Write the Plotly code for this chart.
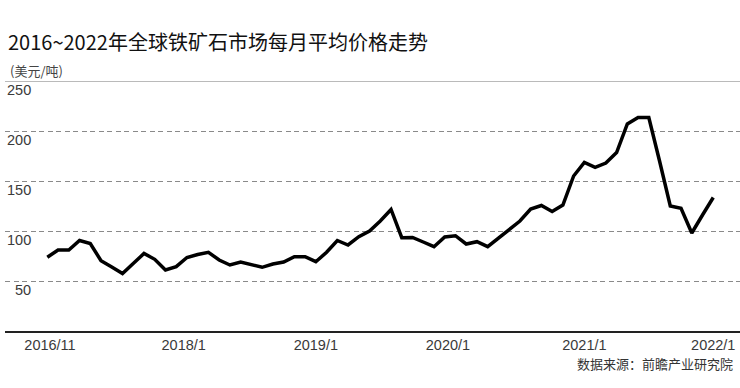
import pandas as pd
import plotly.graph_objects as go

# ---- data ----
months = [d.strftime("%Y/%-m") for d in pd.date_range("2016-11-01", "2022-01-01", freq="MS")]
prices = [
    73.7, 81.0,                                                            # 2016/11-12
    81.0, 90.5, 87.5, 70.3, 64.0, 57.5, 67.5, 77.5, 71.7, 61.0, 64.3, 73.5,   # 2017
    76.5, 78.7, 71.0, 66.0, 69.0, 66.5, 63.7, 67.0, 69.0, 74.3, 74.3, 69.3,   # 2018
    78.7, 90.5, 86.0, 94.3, 100.0, 110.0, 121.5, 93.3, 93.5, 89.0, 84.3, 94.0,  # 2019
    95.3, 87.0, 89.3, 84.3, 93.0, 102.0, 110.0, 122.0, 125.5, 119.5, 126.0, 155.0,  # 2020
    168.5, 163.7, 168.0, 178.5, 207.0, 213.5, 213.5, 170.0, 125.0, 122.7, 98.0, 116.0,  # 2021
    133.5,                                                                 # 2022/1
]
x_tick_labels = ["2016/11", "2018/1", "2019/1", "2020/1", "2021/1", "2022/1"]
x_tick_index = [0.25, 12.7, 25.0, 37.3, 50.0, 62.0]
y_ticks = [50, 100, 150, 200, 250]

title_text = "2016~2022年全球铁矿石市场每月平均价格走势"
unit_text = "(美元/吨)"
source_text = "数据来源：前瞻产业研究院"

x = list(range(len(months)))

W, H = 740, 388
L, R, T, B = 5, 0, 81, 57
pw = W - L - R
ph = H - T - B

CJK = "Noto Sans CJK SC"
NUM = "Liberation Sans, Arial, sans-serif"

fig = go.Figure()
fig.add_trace(go.Scatter(
    x=x, y=prices, mode="lines",
    line=dict(color="#000000", width=3.5),
    customdata=months,
    hovertemplate="%{customdata}: %{y}<extra></extra>",
    showlegend=False,
))

fig.update_layout(
    width=W, height=H,
    margin=dict(l=L, r=R, t=T, b=B, pad=0),
    paper_bgcolor="white", plot_bgcolor="white",
    title=dict(text=title_text, x=8 / W, xanchor="left", xref="container",
               y=1 - 43 / H, yanchor="middle", yref="container",
               font=dict(family=CJK, size=20, color="#111111")),
    xaxis=dict(
        range=[-3.94, 64.49], showgrid=False, zeroline=False,
        showline=True, linecolor="#222222", linewidth=1.5,
        tickmode="array", tickvals=x_tick_index, ticktext=x_tick_labels,
        ticks="", ticklabelstandoff=0,
        tickfont=dict(family=NUM, size=14.5, color="#3a3a3a"),
        fixedrange=True,
    ),
    yaxis=dict(
        range=[0, 250], showline=False, zeroline=False,
        showgrid=True, gridcolor="#8a8a8a", gridwidth=1, griddash="5px,3.5px",
        tickmode="array", tickvals=y_ticks[:-1], showticklabels=False,
        ticks="", fixedrange=True,
    ),
)

# top rule at the maximum tick
fig.add_shape(type="line", xref="paper", yref="y", x0=0, x1=1,
              y0=y_ticks[-1], y1=y_ticks[-1],
              line=dict(color="#777777", width=1))

# y labels below their gridlines, right-aligned
for v in y_ticks:
    fig.add_annotation(x=(33 - L) / pw, xref="paper", y=v, yref="y",
                       text=str(v), showarrow=False, xanchor="right", yanchor="middle",
                       yshift=-9, font=dict(family=NUM, size=14.5, color="#3a3a3a"))

fig.add_annotation(x=(8 - L) / pw, xref="paper", y=(T + ph - 71) / ph, yref="paper",
                   text=unit_text, showarrow=False, xanchor="left", yanchor="middle",
                   font=dict(family=CJK, size=13, color="#444444"))

fig.add_annotation(x=(735 - L) / pw, xref="paper", y=(T + ph - 363) / ph, yref="paper",
                   text=source_text, showarrow=False, xanchor="right", yanchor="middle",
                   font=dict(family=CJK, size=13, color="#333333"))

fig.write_html("out.html", config={"displayModeBar": False},
               post_script="document.body.style.margin='0';")
